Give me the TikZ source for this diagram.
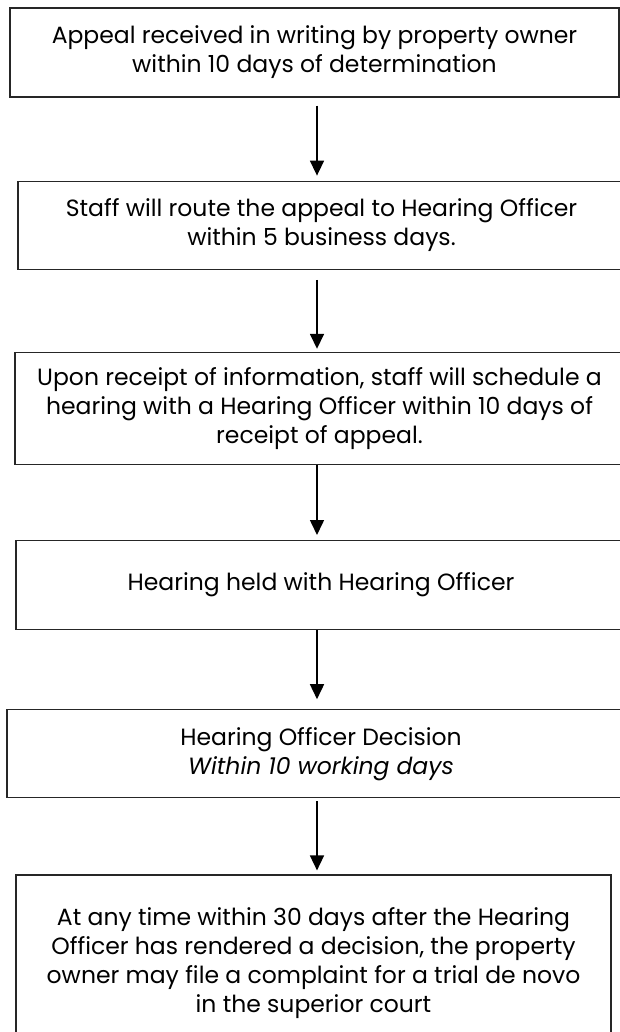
\documentclass[tikz,border=0pt]{standalone}
\usepackage{fontspec}
\setmainfont{Poppins}
\usetikzlibrary{positioning,arrows.meta}

\begin{document}
\begin{tikzpicture}[x=1pt,y=1pt,>={Triangle[width=14pt,length=15pt]},
                    font=\fontsize{23.5}{29}\selectfont]
  \tikzstyle{stepbox}=[draw=black!85,line width=1.2pt,align=center,inner sep=0pt]
  \tikzstyle{flow}=[->,line width=1.6pt]

  \useasboundingbox (0,0) rectangle (620,-1032);

  \node[stepbox,minimum width=609pt,minimum height=89pt] (b1) at (314.5,-52.5)
    {Appeal received in writing by property owner\\within 10 days of determination};
  \node[stepbox,minimum width=607pt,minimum height=88pt] (b2) [below=83pt of b1,xshift=7pt]
    {Staff will route the appeal to Hearing Officer\\within 5 business days.};
  \node[stepbox,minimum width=609pt,minimum height=112pt] (b3) [below=82pt of b2,xshift=-2pt]
    {Upon receipt of information, staff will schedule a\\hearing with a Hearing Officer within 10 days of\\receipt of appeal.};
  \node[stepbox,minimum width=610pt,minimum height=89pt] (b4) [below=75pt of b3,xshift=1.5pt]
    {Hearing held with Hearing Officer};
  \node[stepbox,minimum width=628pt,minimum height=88pt] (b5) [below=79pt of b4]
    {Hearing Officer Decision\\\textit{Within 10 working days}};
  \node[stepbox,minimum width=595pt,minimum height=176pt] (b6) [below=76pt of b5,xshift=-7.5pt]
    {At any time within 30 days after the Hearing\\Officer has rendered a decision, the property\\owner may file a complaint for a trial de novo\\in the superior court};

  \coordinate (ax) at (317,0);

  \path[flow] (b1.south -| ax) edge [shorten <=8pt,shorten >=5pt]  (b2.north -| ax)
              (b2.south -| ax) edge [shorten <=10pt,shorten >=3pt] (b3.north -| ax)
              (b3.south -| ax) edge [shorten >=5pt]                (b4.north -| ax)
              (b4.south -| ax) edge [shorten >=10pt]               (b5.north -| ax)
              (b5.south -| ax) edge [shorten <=3pt,shorten >=4pt]  (b6.north -| ax);
\end{tikzpicture}
\end{document}
